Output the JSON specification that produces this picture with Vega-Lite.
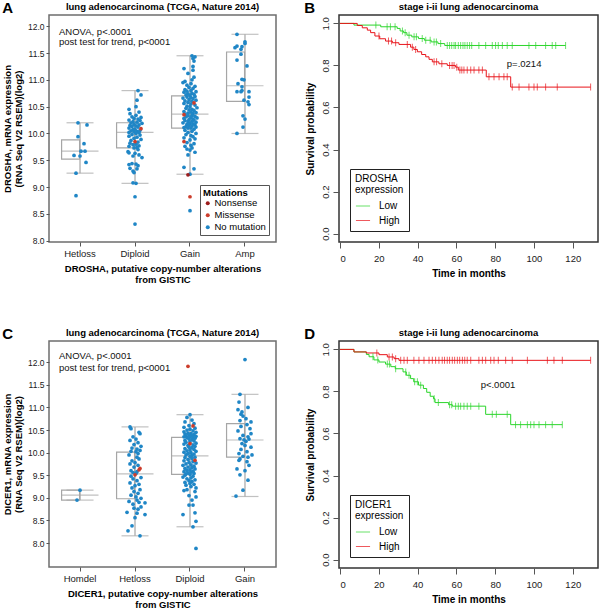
{
"$schema": "https://vega.github.io/schema/vega-lite/v6.json",
"padding": {"left": 2, "top": 0, "right": 0, "bottom": 0},
"config": {
  "font": "Liberation Sans",
  "axis": {"grid": false, "domain": false, "tickColor": "#555", "labelColor": "#1a1a1a", "titleColor": "#000", "labelOverlap": false},
  "title": {"color": "#000"}
},
"resolve": {"scale": {"color": "independent", "xOffset": "independent"}, "legend": {"color": "independent"}},
"spacing": 41,
"datasets": {
  "aBox": [
    {"c":"Hetloss","lo":9.26,"q1":9.52,"med":9.67,"q3":9.88,"hi":10.2},
    {"c":"Diploid","lo":9.07,"q1":9.73,"med":10.02,"q3":10.2,"hi":10.8},
    {"c":"Gain","lo":9.24,"q1":10.1,"med":10.36,"q3":10.7,"hi":11.45},
    {"c":"Amp","lo":10.0,"q1":10.6,"med":10.89,"q3":11.52,"hi":11.85}
  ],
  "cBox": [
    {"c":"Homdel","lo":8.95,"q1":8.95,"med":9.06,"q3":9.17,"hi":9.17},
    {"c":"Hetloss","lo":8.16,"q1":8.98,"med":9.53,"q3":10.01,"hi":10.57},
    {"c":"Diploid","lo":8.36,"q1":9.52,"med":9.93,"q3":10.34,"hi":10.84},
    {"c":"Gain","lo":9.03,"q1":9.9,"med":10.28,"q3":10.64,"hi":11.29}
  ],
  "aNote": [
    {"c":"Hetloss","v":11.9,"t":"ANOVA, p<.0001"},
    {"c":"Hetloss","v":11.71,"t":"post test for trend, p<0001"}
  ],
  "cNote": [
    {"c":"Homdel","v":12.13,"t":"ANOVA, p<.0001"},
    {"c":"Homdel","v":11.87,"t":"post test for trend, p<0001"}
  ],
  "bNote": [{"t":86,"s":0.805,"label":"p=.0214"}],
  "dNote": [{"t":72.5,"s":0.829,"label":"p<.0001"}],
  "aPts": [
    {"c":"Hetloss","v":10.2,"j":-0.2,"m":"No mutation"},{"c":"Hetloss","v":10.16,"j":0.7,"m":"No mutation"},{"c":"Hetloss","v":9.94,"j":-0.2,"m":"No mutation"},{"c":"Hetloss","v":9.81,"j":0.4,"m":"No mutation"},{"c":"Hetloss","v":9.67,"j":0.1,"m":"No mutation"},{"c":"Hetloss","v":9.67,"j":0.5,"m":"No mutation"},{"c":"Hetloss","v":9.59,"j":-0.6,"m":"No mutation"},{"c":"Hetloss","v":9.58,"j":0,"m":"No mutation"},{"c":"Hetloss","v":9.46,"j":0.6,"m":"No mutation"},{"c":"Hetloss","v":9.26,"j":-0.4,"m":"No mutation"},{"c":"Hetloss","v":8.84,"j":-0.4,"m":"No mutation"},
    {"c":"Diploid","v":10.8,"j":0.3,"m":"No mutation"},{"c":"Diploid","v":10.72,"j":0.6,"m":"No mutation"},{"c":"Diploid","v":10.62,"j":0.2,"m":"No mutation"},{"c":"Diploid","v":10.5,"j":0.1,"m":"No mutation"},{"c":"Diploid","v":10.45,"j":-0.6,"m":"No mutation"},{"c":"Diploid","v":10.4,"j":0.4,"m":"No mutation"},{"c":"Diploid","v":10.37,"j":-0.5,"m":"No mutation"},{"c":"Diploid","v":10.34,"j":0.1,"m":"No mutation"},{"c":"Diploid","v":10.31,"j":-0.3,"m":"No mutation"},{"c":"Diploid","v":10.3,"j":0.6,"m":"No mutation"},{"c":"Diploid","v":10.28,"j":-0.1,"m":"No mutation"},{"c":"Diploid","v":10.27,"j":0.3,"m":"No mutation"},{"c":"Diploid","v":10.25,"j":-0.6,"m":"No mutation"},{"c":"Diploid","v":10.24,"j":0.5,"m":"No mutation"},{"c":"Diploid","v":10.22,"j":-0.2,"m":"No mutation"},{"c":"Diploid","v":10.21,"j":0.2,"m":"No mutation"},{"c":"Diploid","v":10.2,"j":-0.4,"m":"No mutation"},
    {"c":"Diploid","v":10.19,"j":0.7,"m":"No mutation"},{"c":"Diploid","v":10.17,"j":-0.1,"m":"No mutation"},{"c":"Diploid","v":10.16,"j":0.4,"m":"No mutation"},{"c":"Diploid","v":10.15,"j":-0.5,"m":"No mutation"},{"c":"Diploid","v":10.14,"j":0.1,"m":"No mutation"},{"c":"Diploid","v":10.13,"j":-0.3,"m":"No mutation"},{"c":"Diploid","v":10.12,"j":0.3,"m":"No mutation"},{"c":"Diploid","v":10.1,"j":-0.6,"m":"No mutation"},{"c":"Diploid","v":10.08,"j":0,"m":"No mutation"},{"c":"Diploid","v":10.07,"j":-0.2,"m":"No mutation"},{"c":"Diploid","v":10.06,"j":0.5,"m":"No mutation"},{"c":"Diploid","v":10.05,"j":-0.4,"m":"No mutation"},{"c":"Diploid","v":10.04,"j":0.2,"m":"No mutation"},{"c":"Diploid","v":10.03,"j":-0.1,"m":"No mutation"},{"c":"Diploid","v":10.02,"j":0.4,"m":"No mutation"},{"c":"Diploid","v":10.02,"j":-0.6,"m":"No mutation"},
    {"c":"Diploid","v":10.0,"j":0.1,"m":"No mutation"},{"c":"Diploid","v":9.98,"j":-0.3,"m":"No mutation"},{"c":"Diploid","v":9.97,"j":0.5,"m":"No mutation"},{"c":"Diploid","v":9.95,"j":-0.6,"m":"No mutation"},{"c":"Diploid","v":9.93,"j":0.2,"m":"No mutation"},{"c":"Diploid","v":9.91,"j":-0.1,"m":"No mutation"},{"c":"Diploid","v":9.89,"j":0.6,"m":"No mutation"},{"c":"Diploid","v":9.87,"j":-0.4,"m":"No mutation"},{"c":"Diploid","v":9.84,"j":0.3,"m":"No mutation"},{"c":"Diploid","v":9.82,"j":-0.5,"m":"No mutation"},{"c":"Diploid","v":9.8,"j":0.1,"m":"No mutation"},{"c":"Diploid","v":9.79,"j":-0.2,"m":"No mutation"},{"c":"Diploid","v":9.77,"j":0.4,"m":"No mutation"},{"c":"Diploid","v":9.76,"j":-0.6,"m":"No mutation"},{"c":"Diploid","v":9.74,"j":0.2,"m":"No mutation"},{"c":"Diploid","v":9.73,"j":-0.1,"m":"No mutation"},
    {"c":"Diploid","v":9.7,"j":0.3,"m":"No mutation"},{"c":"Diploid","v":9.66,"j":-0.7,"m":"No mutation"},{"c":"Diploid","v":9.64,"j":-0.6,"m":"No mutation"},{"c":"Diploid","v":9.63,"j":0,"m":"No mutation"},{"c":"Diploid","v":9.6,"j":0.4,"m":"No mutation"},{"c":"Diploid","v":9.58,"j":-0.2,"m":"No mutation"},{"c":"Diploid","v":9.55,"j":0.7,"m":"No mutation"},{"c":"Diploid","v":9.44,"j":-0.3,"m":"No mutation"},{"c":"Diploid","v":9.43,"j":0.1,"m":"No mutation"},{"c":"Diploid","v":9.42,"j":-0.6,"m":"No mutation"},{"c":"Diploid","v":9.4,"j":0.3,"m":"No mutation"},{"c":"Diploid","v":9.35,"j":-0.5,"m":"No mutation"},{"c":"Diploid","v":9.34,"j":0.2,"m":"No mutation"},{"c":"Diploid","v":9.3,"j":-0.2,"m":"No mutation"},{"c":"Diploid","v":9.27,"j":-0.1,"m":"No mutation"},{"c":"Diploid","v":9.08,"j":-0.2,"m":"No mutation"},{"c":"Diploid","v":9.07,"j":0.1,"m":"No mutation"},{"c":"Diploid","v":8.82,"j":0,"m":"No mutation"},{"c":"Diploid","v":8.31,"j":0,"m":"No mutation"},
    {"c":"Gain","v":11.45,"j":0.2,"m":"No mutation"},{"c":"Gain","v":11.43,"j":0.5,"m":"No mutation"},{"c":"Gain","v":11.4,"j":0.3,"m":"No mutation"},{"c":"Gain","v":11.35,"j":0.4,"m":"No mutation"},{"c":"Gain","v":11.25,"j":0.3,"m":"No mutation"},{"c":"Gain","v":11.21,"j":-0.6,"m":"No mutation"},{"c":"Gain","v":11.18,"j":0.3,"m":"No mutation"},{"c":"Gain","v":11.12,"j":-0.2,"m":"No mutation"},{"c":"Gain","v":11.05,"j":0.4,"m":"No mutation"},{"c":"Gain","v":11.0,"j":0.2,"m":"No mutation"},{"c":"Gain","v":10.97,"j":-0.5,"m":"No mutation"},{"c":"Gain","v":10.95,"j":-0.7,"m":"No mutation"},{"c":"Gain","v":10.93,"j":0.1,"m":"No mutation"},{"c":"Gain","v":10.9,"j":-0.3,"m":"No mutation"},{"c":"Gain","v":10.88,"j":0.5,"m":"No mutation"},{"c":"Gain","v":10.86,"j":-0.1,"m":"No mutation"},{"c":"Gain","v":10.84,"j":0.3,"m":"No mutation"},{"c":"Gain","v":10.82,"j":-0.5,"m":"No mutation"},{"c":"Gain","v":10.8,"j":0.1,"m":"No mutation"},{"c":"Gain","v":10.79,"j":-0.3,"m":"No mutation"},{"c":"Gain","v":10.78,"j":0.6,"m":"No mutation"},{"c":"Gain","v":10.77,"j":-0.6,"m":"No mutation"},{"c":"Gain","v":10.75,"j":0.2,"m":"No mutation"},{"c":"Gain","v":10.74,"j":-0.2,"m":"No mutation"},{"c":"Gain","v":10.73,"j":0.4,"m":"No mutation"},{"c":"Gain","v":10.72,"j":-0.4,"m":"No mutation"},{"c":"Gain","v":10.71,"j":0,"m":"No mutation"},
    {"c":"Gain","v":10.69,"j":0.5,"m":"No mutation"},{"c":"Gain","v":10.68,"j":-0.3,"m":"No mutation"},{"c":"Gain","v":10.67,"j":0.1,"m":"No mutation"},{"c":"Gain","v":10.66,"j":-0.7,"m":"No mutation"},{"c":"Gain","v":10.65,"j":0.3,"m":"No mutation"},{"c":"Gain","v":10.63,"j":-0.1,"m":"No mutation"},{"c":"Gain","v":10.62,"j":0.6,"m":"No mutation"},{"c":"Gain","v":10.61,"j":-0.5,"m":"No mutation"},{"c":"Gain","v":10.6,"j":0.2,"m":"No mutation"},{"c":"Gain","v":10.58,"j":-0.2,"m":"No mutation"},{"c":"Gain","v":10.56,"j":-0.6,"m":"No mutation"},{"c":"Gain","v":10.55,"j":0.1,"m":"No mutation"},{"c":"Gain","v":10.53,"j":0.5,"m":"No mutation"},{"c":"Gain","v":10.51,"j":-0.3,"m":"No mutation"},{"c":"Gain","v":10.5,"j":0,"m":"No mutation"},{"c":"Gain","v":10.48,"j":0.7,"m":"No mutation"},{"c":"Gain","v":10.47,"j":-0.4,"m":"No mutation"},{"c":"Gain","v":10.45,"j":0.2,"m":"No mutation"},{"c":"Gain","v":10.44,"j":-0.1,"m":"No mutation"},{"c":"Gain","v":10.43,"j":0.4,"m":"No mutation"},{"c":"Gain","v":10.41,"j":-0.6,"m":"No mutation"},{"c":"Gain","v":10.4,"j":0.1,"m":"No mutation"},{"c":"Gain","v":10.39,"j":0.6,"m":"No mutation"},{"c":"Gain","v":10.38,"j":-0.2,"m":"No mutation"},{"c":"Gain","v":10.37,"j":0.3,"m":"No mutation"},{"c":"Gain","v":10.36,"j":-0.5,"m":"No mutation"},
    {"c":"Gain","v":10.34,"j":0.2,"m":"No mutation"},{"c":"Gain","v":10.33,"j":-0.2,"m":"No mutation"},{"c":"Gain","v":10.32,"j":0.5,"m":"No mutation"},{"c":"Gain","v":10.31,"j":-0.4,"m":"No mutation"},{"c":"Gain","v":10.3,"j":0.1,"m":"No mutation"},{"c":"Gain","v":10.29,"j":0.7,"m":"No mutation"},{"c":"Gain","v":10.28,"j":-0.6,"m":"No mutation"},{"c":"Gain","v":10.27,"j":0.3,"m":"No mutation"},{"c":"Gain","v":10.26,"j":-0.1,"m":"No mutation"},{"c":"Gain","v":10.25,"j":0.4,"m":"No mutation"},{"c":"Gain","v":10.24,"j":-0.5,"m":"No mutation"},{"c":"Gain","v":10.23,"j":0.2,"m":"No mutation"},{"c":"Gain","v":10.22,"j":-0.2,"m":"No mutation"},{"c":"Gain","v":10.21,"j":0.6,"m":"No mutation"},{"c":"Gain","v":10.2,"j":-0.7,"m":"No mutation"},{"c":"Gain","v":10.19,"j":0,"m":"No mutation"},{"c":"Gain","v":10.18,"j":0.3,"m":"No mutation"},{"c":"Gain","v":10.17,"j":-0.3,"m":"No mutation"},{"c":"Gain","v":10.16,"j":0.5,"m":"No mutation"},{"c":"Gain","v":10.15,"j":-0.1,"m":"No mutation"},{"c":"Gain","v":10.14,"j":0.2,"m":"No mutation"},{"c":"Gain","v":10.13,"j":-0.4,"m":"No mutation"},{"c":"Gain","v":10.12,"j":0.6,"m":"No mutation"},{"c":"Gain","v":10.11,"j":-0.6,"m":"No mutation"},{"c":"Gain","v":10.1,"j":0.1,"m":"No mutation"},{"c":"Gain","v":10.1,"j":-0.2,"m":"No mutation"},
    {"c":"Gain","v":10.08,"j":0.4,"m":"No mutation"},{"c":"Gain","v":10.06,"j":-0.5,"m":"No mutation"},{"c":"Gain","v":10.04,"j":0.2,"m":"No mutation"},{"c":"Gain","v":10.02,"j":-0.2,"m":"No mutation"},{"c":"Gain","v":10.0,"j":0.6,"m":"No mutation"},{"c":"Gain","v":9.98,"j":-0.4,"m":"No mutation"},{"c":"Gain","v":9.96,"j":0.1,"m":"No mutation"},{"c":"Gain","v":9.94,"j":0.3,"m":"No mutation"},{"c":"Gain","v":9.92,"j":-0.6,"m":"No mutation"},{"c":"Gain","v":9.9,"j":0.5,"m":"No mutation"},{"c":"Gain","v":9.88,"j":0,"m":"No mutation"},{"c":"Gain","v":9.83,"j":-0.3,"m":"No mutation"},{"c":"Gain","v":9.81,"j":0.4,"m":"No mutation"},{"c":"Gain","v":9.78,"j":0.1,"m":"No mutation"},{"c":"Gain","v":9.76,"j":-0.5,"m":"No mutation"},{"c":"Gain","v":9.73,"j":0.2,"m":"No mutation"},{"c":"Gain","v":9.71,"j":-0.3,"m":"No mutation"},{"c":"Gain","v":9.69,"j":0,"m":"No mutation"},{"c":"Gain","v":9.65,"j":0.5,"m":"No mutation"},{"c":"Gain","v":9.6,"j":-0.2,"m":"No mutation"},{"c":"Gain","v":9.37,"j":-0.6,"m":"No mutation"},{"c":"Gain","v":9.34,"j":0.4,"m":"No mutation"},{"c":"Gain","v":9.24,"j":0,"m":"No mutation"},{"c":"Gain","v":8.56,"j":0,"m":"No mutation"},
    {"c":"Amp","v":11.85,"j":-0.8,"m":"No mutation"},{"c":"Amp","v":11.71,"j":0,"m":"No mutation"},{"c":"Amp","v":11.68,"j":0,"m":"No mutation"},{"c":"Amp","v":11.63,"j":-0.8,"m":"No mutation"},{"c":"Amp","v":11.62,"j":-0.3,"m":"No mutation"},{"c":"Amp","v":11.6,"j":-1,"m":"No mutation"},{"c":"Amp","v":11.57,"j":-0.4,"m":"No mutation"},{"c":"Amp","v":11.48,"j":-0.4,"m":"No mutation"},{"c":"Amp","v":11.37,"j":-0.8,"m":"No mutation"},{"c":"Amp","v":11.26,"j":0.2,"m":"No mutation"},{"c":"Amp","v":11.01,"j":-0.3,"m":"No mutation"},{"c":"Amp","v":11.0,"j":-0.1,"m":"No mutation"},{"c":"Amp","v":10.93,"j":-0.7,"m":"No mutation"},{"c":"Amp","v":10.87,"j":-0.3,"m":"No mutation"},{"c":"Amp","v":10.8,"j":-0.3,"m":"No mutation"},{"c":"Amp","v":10.78,"j":-0.8,"m":"No mutation"},{"c":"Amp","v":10.78,"j":-0.4,"m":"No mutation"},{"c":"Amp","v":10.78,"j":0.4,"m":"No mutation"},{"c":"Amp","v":10.68,"j":0.4,"m":"No mutation"},{"c":"Amp","v":10.62,"j":-0.1,"m":"No mutation"},{"c":"Amp","v":10.59,"j":0.3,"m":"No mutation"},{"c":"Amp","v":10.54,"j":0.4,"m":"No mutation"},{"c":"Amp","v":10.33,"j":-0.2,"m":"No mutation"},{"c":"Amp","v":10.27,"j":0,"m":"No mutation"},{"c":"Amp","v":10.12,"j":-0.2,"m":"No mutation"},{"c":"Amp","v":10.0,"j":-0.8,"m":"No mutation"},
    {"c":"Diploid","v":10.09,"j":0.6,"m":"Missense"},{"c":"Diploid","v":9.85,"j":0,"m":"Missense"},
    {"c":"Gain","v":10.57,"j":0.4,"m":"Missense"},{"c":"Gain","v":10.35,"j":-0.6,"m":"Missense"},{"c":"Gain","v":9.85,"j":-0.6,"m":"Missense"},{"c":"Gain","v":9.23,"j":-0.2,"m":"Nonsense"},{"c":"Gain","v":8.82,"j":0,"m":"Missense"}
  ],
  "cPts": [
    {"c":"Homdel","v":9.17,"j":0,"m":"No mutation"},{"c":"Homdel","v":8.95,"j":-0.3,"m":"No mutation"},
    {"c":"Hetloss","v":10.57,"j":-0.5,"m":"No mutation"},{"c":"Hetloss","v":10.53,"j":-0.4,"m":"No mutation"},{"c":"Hetloss","v":10.45,"j":0.4,"m":"No mutation"},{"c":"Hetloss","v":10.42,"j":0.5,"m":"No mutation"},{"c":"Hetloss","v":10.35,"j":-0.2,"m":"No mutation"},{"c":"Hetloss","v":10.3,"j":0.1,"m":"No mutation"},{"c":"Hetloss","v":10.27,"j":-0.5,"m":"No mutation"},{"c":"Hetloss","v":10.22,"j":0.3,"m":"No mutation"},{"c":"Hetloss","v":10.18,"j":-0.1,"m":"No mutation"},{"c":"Hetloss","v":10.14,"j":0.6,"m":"No mutation"},{"c":"Hetloss","v":10.1,"j":-0.3,"m":"No mutation"},{"c":"Hetloss","v":10.08,"j":0.2,"m":"No mutation"},{"c":"Hetloss","v":10.05,"j":0.5,"m":"No mutation"},{"c":"Hetloss","v":10.03,"j":-0.4,"m":"No mutation"},{"c":"Hetloss","v":10.02,"j":0.1,"m":"No mutation"},
    {"c":"Hetloss","v":9.98,"j":0.3,"m":"No mutation"},{"c":"Hetloss","v":9.95,"j":-0.6,"m":"No mutation"},{"c":"Hetloss","v":9.9,"j":0.2,"m":"No mutation"},{"c":"Hetloss","v":9.86,"j":0.4,"m":"No mutation"},{"c":"Hetloss","v":9.82,"j":-0.3,"m":"No mutation"},{"c":"Hetloss","v":9.78,"j":0,"m":"No mutation"},{"c":"Hetloss","v":9.75,"j":-0.5,"m":"No mutation"},{"c":"Hetloss","v":9.72,"j":0.3,"m":"No mutation"},{"c":"Hetloss","v":9.68,"j":-0.1,"m":"No mutation"},{"c":"Hetloss","v":9.6,"j":-0.4,"m":"No mutation"},{"c":"Hetloss","v":9.58,"j":0.2,"m":"No mutation"},{"c":"Hetloss","v":9.56,"j":-0.2,"m":"No mutation"},{"c":"Hetloss","v":9.54,"j":0.1,"m":"No mutation"},
    {"c":"Hetloss","v":9.48,"j":-0.4,"m":"No mutation"},{"c":"Hetloss","v":9.45,"j":0.6,"m":"No mutation"},{"c":"Hetloss","v":9.42,"j":-0.2,"m":"No mutation"},{"c":"Hetloss","v":9.38,"j":0.2,"m":"No mutation"},{"c":"Hetloss","v":9.33,"j":-0.5,"m":"No mutation"},{"c":"Hetloss","v":9.3,"j":0.4,"m":"No mutation"},{"c":"Hetloss","v":9.27,"j":0,"m":"No mutation"},{"c":"Hetloss","v":9.22,"j":-0.3,"m":"No mutation"},{"c":"Hetloss","v":9.18,"j":0.5,"m":"No mutation"},{"c":"Hetloss","v":9.14,"j":-0.1,"m":"No mutation"},{"c":"Hetloss","v":9.1,"j":0.3,"m":"No mutation"},{"c":"Hetloss","v":9.06,"j":-0.4,"m":"No mutation"},{"c":"Hetloss","v":9.02,"j":0.1,"m":"No mutation"},{"c":"Hetloss","v":8.99,"j":0.6,"m":"No mutation"},
    {"c":"Hetloss","v":8.95,"j":0.2,"m":"No mutation"},{"c":"Hetloss","v":8.92,"j":-0.6,"m":"No mutation"},{"c":"Hetloss","v":8.9,"j":0.4,"m":"No mutation"},{"c":"Hetloss","v":8.89,"j":1,"m":"No mutation"},{"c":"Hetloss","v":8.86,"j":-0.2,"m":"No mutation"},{"c":"Hetloss","v":8.8,"j":0.6,"m":"No mutation"},{"c":"Hetloss","v":8.77,"j":-0.1,"m":"No mutation"},{"c":"Hetloss","v":8.75,"j":0.3,"m":"No mutation"},{"c":"Hetloss","v":8.68,"j":-0.8,"m":"No mutation"},{"c":"Hetloss","v":8.66,"j":0.2,"m":"No mutation"},{"c":"Hetloss","v":8.63,"j":1,"m":"No mutation"},{"c":"Hetloss","v":8.56,"j":0,"m":"No mutation"},{"c":"Hetloss","v":8.38,"j":-0.3,"m":"No mutation"},{"c":"Hetloss","v":8.27,"j":-0.7,"m":"No mutation"},{"c":"Hetloss","v":8.16,"j":0.5,"m":"No mutation"},
    {"c":"Diploid","v":10.84,"j":0,"m":"No mutation"},{"c":"Diploid","v":10.78,"j":-0.3,"m":"No mutation"},{"c":"Diploid","v":10.72,"j":0.2,"m":"No mutation"},{"c":"Diploid","v":10.68,"j":-0.5,"m":"No mutation"},{"c":"Diploid","v":10.64,"j":0.4,"m":"No mutation"},{"c":"Diploid","v":10.6,"j":-0.1,"m":"No mutation"},{"c":"Diploid","v":10.56,"j":-0.6,"m":"No mutation"},{"c":"Diploid","v":10.54,"j":0.5,"m":"No mutation"},{"c":"Diploid","v":10.52,"j":0,"m":"No mutation"},{"c":"Diploid","v":10.5,"j":-0.3,"m":"No mutation"},{"c":"Diploid","v":10.48,"j":0.3,"m":"No mutation"},{"c":"Diploid","v":10.46,"j":-0.6,"m":"No mutation"},{"c":"Diploid","v":10.45,"j":0.6,"m":"No mutation"},{"c":"Diploid","v":10.43,"j":-0.2,"m":"No mutation"},{"c":"Diploid","v":10.42,"j":0.1,"m":"No mutation"},{"c":"Diploid","v":10.41,"j":-0.5,"m":"No mutation"},{"c":"Diploid","v":10.4,"j":0.4,"m":"No mutation"},{"c":"Diploid","v":10.39,"j":-0.1,"m":"No mutation"},{"c":"Diploid","v":10.38,"j":0.2,"m":"No mutation"},{"c":"Diploid","v":10.37,"j":-0.4,"m":"No mutation"},{"c":"Diploid","v":10.36,"j":0.6,"m":"No mutation"},{"c":"Diploid","v":10.35,"j":0,"m":"No mutation"},{"c":"Diploid","v":10.35,"j":-0.6,"m":"No mutation"},{"c":"Diploid","v":10.34,"j":0.3,"m":"No mutation"},
    {"c":"Diploid","v":10.33,"j":-0.3,"m":"No mutation"},{"c":"Diploid","v":10.32,"j":0.5,"m":"No mutation"},{"c":"Diploid","v":10.3,"j":-0.1,"m":"No mutation"},{"c":"Diploid","v":10.29,"j":0.2,"m":"No mutation"},{"c":"Diploid","v":10.27,"j":-0.5,"m":"No mutation"},{"c":"Diploid","v":10.26,"j":0.4,"m":"No mutation"},{"c":"Diploid","v":10.24,"j":0,"m":"No mutation"},{"c":"Diploid","v":10.23,"j":-0.4,"m":"No mutation"},{"c":"Diploid","v":10.21,"j":0.6,"m":"No mutation"},{"c":"Diploid","v":10.19,"j":-0.6,"m":"No mutation"},{"c":"Diploid","v":10.17,"j":0.3,"m":"No mutation"},{"c":"Diploid","v":10.16,"j":-0.2,"m":"No mutation"},{"c":"Diploid","v":10.14,"j":0.5,"m":"No mutation"},{"c":"Diploid","v":10.12,"j":-0.1,"m":"No mutation"},{"c":"Diploid","v":10.11,"j":0.2,"m":"No mutation"},{"c":"Diploid","v":10.09,"j":-0.5,"m":"No mutation"},{"c":"Diploid","v":10.07,"j":0.4,"m":"No mutation"},{"c":"Diploid","v":10.06,"j":0,"m":"No mutation"},{"c":"Diploid","v":10.04,"j":-0.3,"m":"No mutation"},{"c":"Diploid","v":10.03,"j":0.6,"m":"No mutation"},{"c":"Diploid","v":10.01,"j":-0.6,"m":"No mutation"},{"c":"Diploid","v":10.0,"j":0.1,"m":"No mutation"},{"c":"Diploid","v":9.98,"j":-0.2,"m":"No mutation"},{"c":"Diploid","v":9.97,"j":0.4,"m":"No mutation"},{"c":"Diploid","v":9.95,"j":-0.4,"m":"No mutation"},{"c":"Diploid","v":9.94,"j":0.2,"m":"No mutation"},
    {"c":"Diploid","v":9.92,"j":0,"m":"No mutation"},{"c":"Diploid","v":9.9,"j":0.5,"m":"No mutation"},{"c":"Diploid","v":9.89,"j":-0.5,"m":"No mutation"},{"c":"Diploid","v":9.87,"j":0.2,"m":"No mutation"},{"c":"Diploid","v":9.85,"j":-0.2,"m":"No mutation"},{"c":"Diploid","v":9.82,"j":-0.6,"m":"No mutation"},{"c":"Diploid","v":9.8,"j":0.3,"m":"No mutation"},{"c":"Diploid","v":9.78,"j":-0.1,"m":"No mutation"},{"c":"Diploid","v":9.77,"j":0.6,"m":"No mutation"},{"c":"Diploid","v":9.75,"j":-0.4,"m":"No mutation"},{"c":"Diploid","v":9.73,"j":0.1,"m":"No mutation"},{"c":"Diploid","v":9.72,"j":-0.7,"m":"No mutation"},{"c":"Diploid","v":9.7,"j":0.4,"m":"No mutation"},{"c":"Diploid","v":9.68,"j":-0.2,"m":"No mutation"},{"c":"Diploid","v":9.67,"j":0.2,"m":"No mutation"},{"c":"Diploid","v":9.65,"j":-0.5,"m":"No mutation"},{"c":"Diploid","v":9.64,"j":0.5,"m":"No mutation"},{"c":"Diploid","v":9.62,"j":0,"m":"No mutation"},{"c":"Diploid","v":9.61,"j":-0.3,"m":"No mutation"},{"c":"Diploid","v":9.59,"j":0.3,"m":"No mutation"},{"c":"Diploid","v":9.58,"j":-0.6,"m":"No mutation"},{"c":"Diploid","v":9.57,"j":0.1,"m":"No mutation"},{"c":"Diploid","v":9.55,"j":-0.2,"m":"No mutation"},{"c":"Diploid","v":9.54,"j":0.4,"m":"No mutation"},{"c":"Diploid","v":9.53,"j":-0.4,"m":"No mutation"},{"c":"Diploid","v":9.52,"j":0,"m":"No mutation"},
    {"c":"Diploid","v":9.5,"j":-0.5,"m":"No mutation"},{"c":"Diploid","v":9.48,"j":0.3,"m":"No mutation"},{"c":"Diploid","v":9.46,"j":-0.7,"m":"No mutation"},{"c":"Diploid","v":9.44,"j":0.1,"m":"No mutation"},{"c":"Diploid","v":9.42,"j":-0.3,"m":"No mutation"},{"c":"Diploid","v":9.4,"j":0.5,"m":"No mutation"},{"c":"Diploid","v":9.38,"j":-0.1,"m":"No mutation"},{"c":"Diploid","v":9.36,"j":0.2,"m":"No mutation"},{"c":"Diploid","v":9.34,"j":-0.5,"m":"No mutation"},{"c":"Diploid","v":9.32,"j":0,"m":"No mutation"},{"c":"Diploid","v":9.3,"j":0.4,"m":"No mutation"},{"c":"Diploid","v":9.28,"j":-0.4,"m":"No mutation"},{"c":"Diploid","v":9.25,"j":0.1,"m":"No mutation"},{"c":"Diploid","v":9.22,"j":0.6,"m":"No mutation"},{"c":"Diploid","v":9.18,"j":-0.3,"m":"No mutation"},{"c":"Diploid","v":9.16,"j":-0.6,"m":"No mutation"},{"c":"Diploid","v":9.14,"j":0.5,"m":"No mutation"},{"c":"Diploid","v":9.05,"j":-0.1,"m":"No mutation"},{"c":"Diploid","v":9.02,"j":0.6,"m":"No mutation"},{"c":"Diploid","v":8.95,"j":0.2,"m":"No mutation"},{"c":"Diploid","v":8.84,"j":-0.1,"m":"No mutation"},{"c":"Diploid","v":8.84,"j":0.3,"m":"No mutation"},{"c":"Diploid","v":8.67,"j":0.5,"m":"No mutation"},{"c":"Diploid","v":8.63,"j":-0.7,"m":"No mutation"},{"c":"Diploid","v":8.48,"j":0.6,"m":"No mutation"},{"c":"Diploid","v":8.36,"j":0.3,"m":"No mutation"},{"c":"Diploid","v":7.88,"j":0.6,"m":"No mutation"},
    {"c":"Gain","v":12.06,"j":0,"m":"No mutation"},{"c":"Gain","v":11.29,"j":-0.5,"m":"No mutation"},{"c":"Gain","v":11.12,"j":-0.6,"m":"No mutation"},{"c":"Gain","v":11.0,"j":0.3,"m":"No mutation"},{"c":"Gain","v":10.95,"j":-0.7,"m":"No mutation"},{"c":"Gain","v":10.9,"j":-0.3,"m":"No mutation"},{"c":"Gain","v":10.85,"j":-0.4,"m":"No mutation"},{"c":"Gain","v":10.81,"j":-0.2,"m":"No mutation"},{"c":"Gain","v":10.75,"j":0.1,"m":"No mutation"},{"c":"Gain","v":10.71,"j":-0.5,"m":"No mutation"},{"c":"Gain","v":10.68,"j":0.6,"m":"No mutation"},{"c":"Gain","v":10.62,"j":0.2,"m":"No mutation"},{"c":"Gain","v":10.58,"j":-0.4,"m":"No mutation"},{"c":"Gain","v":10.53,"j":0.5,"m":"No mutation"},{"c":"Gain","v":10.48,"j":-0.7,"m":"No mutation"},{"c":"Gain","v":10.42,"j":0.6,"m":"No mutation"},{"c":"Gain","v":10.38,"j":-0.2,"m":"No mutation"},{"c":"Gain","v":10.35,"j":0.3,"m":"No mutation"},{"c":"Gain","v":10.31,"j":-0.5,"m":"No mutation"},{"c":"Gain","v":10.3,"j":0.4,"m":"No mutation"},{"c":"Gain","v":10.28,"j":-0.1,"m":"No mutation"},{"c":"Gain","v":10.25,"j":0.1,"m":"No mutation"},{"c":"Gain","v":10.2,"j":-0.3,"m":"No mutation"},{"c":"Gain","v":10.16,"j":0,"m":"No mutation"},{"c":"Gain","v":10.12,"j":0.6,"m":"No mutation"},{"c":"Gain","v":10.07,"j":-0.4,"m":"No mutation"},{"c":"Gain","v":10.02,"j":0.2,"m":"No mutation"},{"c":"Gain","v":9.98,"j":-0.6,"m":"No mutation"},{"c":"Gain","v":9.95,"j":0.7,"m":"No mutation"},{"c":"Gain","v":9.92,"j":-0.2,"m":"No mutation"},{"c":"Gain","v":9.9,"j":0.3,"m":"No mutation"},{"c":"Gain","v":9.86,"j":-0.5,"m":"No mutation"},{"c":"Gain","v":9.83,"j":-0.6,"m":"No mutation"},{"c":"Gain","v":9.8,"j":0.2,"m":"No mutation"},{"c":"Gain","v":9.72,"j":0.4,"m":"No mutation"},{"c":"Gain","v":9.64,"j":-0.8,"m":"No mutation"},{"c":"Gain","v":9.6,"j":0,"m":"No mutation"},{"c":"Gain","v":9.51,"j":-0.5,"m":"No mutation"},{"c":"Gain","v":9.39,"j":0.3,"m":"No mutation"},{"c":"Gain","v":9.17,"j":-0.2,"m":"No mutation"},{"c":"Gain","v":9.04,"j":-0.9,"m":"No mutation"},
    {"c":"Hetloss","v":9.65,"j":0.5,"m":"Missense"},{"c":"Hetloss","v":9.62,"j":0.4,"m":"Missense"},{"c":"Hetloss","v":9.51,"j":0,"m":"Missense"},
    {"c":"Diploid","v":11.91,"j":-0.2,"m":"Missense"},{"c":"Diploid","v":10.59,"j":0.3,"m":"Missense"},{"c":"Diploid","v":10.2,"j":0,"m":"Missense"},{"c":"Diploid","v":9.83,"j":0.5,"m":"Missense"}
  ],
  "bLine": [
    {"t":0,"s":1,"g":"Low"},{"t":7.2,"s":0.992,"g":"Low"},{"t":21,"s":0.984,"g":"Low"},{"t":29.5,"s":0.976,"g":"Low"},{"t":31,"s":0.964,"g":"Low"},{"t":32.8,"s":0.956,"g":"Low"},{"t":34.5,"s":0.944,"g":"Low"},{"t":37,"s":0.936,"g":"Low"},{"t":40.5,"s":0.928,"g":"Low"},{"t":43.5,"s":0.92,"g":"Low"},{"t":47,"s":0.912,"g":"Low"},{"t":50.5,"s":0.904,"g":"Low"},{"t":54,"s":0.895,"g":"Low"},{"t":116.3,"s":0.895,"g":"Low"},
    {"t":0,"s":1,"g":"High"},{"t":8.9,"s":0.99,"g":"High"},{"t":11.5,"s":0.979,"g":"High"},{"t":14.1,"s":0.968,"g":"High"},{"t":15.8,"s":0.956,"g":"High"},{"t":18,"s":0.94,"g":"High"},{"t":20.5,"s":0.927,"g":"High"},{"t":23.5,"s":0.916,"g":"High"},{"t":27,"s":0.908,"g":"High"},{"t":30.4,"s":0.9,"g":"High"},{"t":36.4,"s":0.887,"g":"High"},{"t":38.1,"s":0.876,"g":"High"},{"t":39.9,"s":0.865,"g":"High"},{"t":42.1,"s":0.852,"g":"High"},{"t":44.2,"s":0.841,"g":"High"},{"t":45.9,"s":0.829,"g":"High"},{"t":47.6,"s":0.817,"g":"High"},{"t":51,"s":0.808,"g":"High"},{"t":55.3,"s":0.8,"g":"High"},{"t":59.6,"s":0.792,"g":"High"},{"t":61,"s":0.778,"g":"High"},{"t":75.4,"s":0.746,"g":"High"},{"t":88,"s":0.697,"g":"High"},{"t":129.2,"s":0.697,"g":"High"}
  ],
  "bCens": [
    {"t":18.5,"s":0.992,"g":"Low"},{"t":24.3,"s":0.984,"g":"Low"},{"t":26,"s":0.984,"g":"Low"},{"t":28.4,"s":0.984,"g":"Low"},{"t":32.2,"s":0.964,"g":"Low"},{"t":33.6,"s":0.956,"g":"Low"},{"t":35.6,"s":0.944,"g":"Low"},{"t":38.2,"s":0.936,"g":"Low"},{"t":39.4,"s":0.936,"g":"Low"},{"t":42.4,"s":0.928,"g":"Low"},{"t":44.2,"s":0.92,"g":"Low"},{"t":46.5,"s":0.92,"g":"Low"},{"t":48.5,"s":0.912,"g":"Low"},{"t":49.7,"s":0.912,"g":"Low"},{"t":51.9,"s":0.904,"g":"Low"},
    {"t":55.3,"s":0.895,"g":"Low"},{"t":56.5,"s":0.895,"g":"Low"},{"t":57.6,"s":0.895,"g":"Low"},{"t":58.8,"s":0.895,"g":"Low"},{"t":59.6,"s":0.895,"g":"Low"},{"t":61,"s":0.895,"g":"Low"},{"t":62.2,"s":0.895,"g":"Low"},{"t":63.4,"s":0.895,"g":"Low"},{"t":64.4,"s":0.895,"g":"Low"},{"t":65.6,"s":0.895,"g":"Low"},{"t":66.8,"s":0.895,"g":"Low"},{"t":67.9,"s":0.895,"g":"Low"},{"t":71.6,"s":0.895,"g":"Low"},{"t":75.1,"s":0.895,"g":"Low"},{"t":78.5,"s":0.895,"g":"Low"},{"t":80.2,"s":0.895,"g":"Low"},{"t":81.6,"s":0.895,"g":"Low"},{"t":83.7,"s":0.895,"g":"Low"},{"t":86.2,"s":0.895,"g":"Low"},{"t":88.8,"s":0.895,"g":"Low"},{"t":97.4,"s":0.895,"g":"Low"},{"t":100.9,"s":0.895,"g":"Low"},{"t":106,"s":0.895,"g":"Low"},{"t":109.4,"s":0.895,"g":"Low"},{"t":111.2,"s":0.895,"g":"Low"},{"t":116.3,"s":0.895,"g":"Low"},
    {"t":20.1,"s":0.94,"g":"High"},{"t":25,"s":0.916,"g":"High"},{"t":26.6,"s":0.916,"g":"High"},{"t":28.7,"s":0.908,"g":"High"},{"t":34.7,"s":0.9,"g":"High"},{"t":37.3,"s":0.887,"g":"High"},{"t":39,"s":0.876,"g":"High"},{"t":48.5,"s":0.817,"g":"High"},{"t":49.8,"s":0.817,"g":"High"},{"t":52.5,"s":0.808,"g":"High"},{"t":56.5,"s":0.8,"g":"High"},{"t":57.8,"s":0.8,"g":"High"},{"t":58.8,"s":0.8,"g":"High"},{"t":60.2,"s":0.792,"g":"High"},{"t":61.8,"s":0.778,"g":"High"},{"t":62.8,"s":0.778,"g":"High"},{"t":63.9,"s":0.778,"g":"High"},{"t":65.6,"s":0.778,"g":"High"},{"t":67.4,"s":0.778,"g":"High"},{"t":69.1,"s":0.778,"g":"High"},{"t":71.6,"s":0.778,"g":"High"},{"t":73.4,"s":0.778,"g":"High"},{"t":76.8,"s":0.746,"g":"High"},{"t":79.4,"s":0.746,"g":"High"},{"t":82,"s":0.746,"g":"High"},{"t":84.5,"s":0.746,"g":"High"},{"t":86.2,"s":0.746,"g":"High"},{"t":88.8,"s":0.697,"g":"High"},{"t":92.3,"s":0.697,"g":"High"},{"t":97.4,"s":0.697,"g":"High"},{"t":100,"s":0.697,"g":"High"},{"t":101.7,"s":0.697,"g":"High"},{"t":106,"s":0.697,"g":"High"},{"t":112,"s":0.697,"g":"High"},{"t":129.2,"s":0.697,"g":"High"}
  ],
  "dLine": [
    {"t":0,"s":1,"g":"Low"},{"t":7.2,"s":0.988,"g":"Low"},{"t":13.6,"s":0.976,"g":"Low"},{"t":15,"s":0.965,"g":"Low"},{"t":17.5,"s":0.95,"g":"Low"},{"t":20.1,"s":0.94,"g":"Low"},{"t":23.5,"s":0.93,"g":"Low"},{"t":26.2,"s":0.918,"g":"Low"},{"t":28.5,"s":0.908,"g":"Low"},{"t":32.5,"s":0.893,"g":"Low"},{"t":34.2,"s":0.877,"g":"Low"},{"t":36.4,"s":0.861,"g":"Low"},{"t":38,"s":0.846,"g":"Low"},{"t":40.5,"s":0.83,"g":"Low"},{"t":43,"s":0.814,"g":"Low"},{"t":44.7,"s":0.796,"g":"Low"},{"t":46.5,"s":0.777,"g":"Low"},{"t":48.2,"s":0.765,"g":"Low"},{"t":49,"s":0.747,"g":"Low"},{"t":56,"s":0.737,"g":"Low"},{"t":57.9,"s":0.73,"g":"Low"},{"t":75.1,"s":0.691,"g":"Low"},{"t":88,"s":0.642,"g":"Low"},{"t":114.6,"s":0.642,"g":"Low"},
    {"t":0,"s":1,"g":"High"},{"t":7.2,"s":0.988,"g":"High"},{"t":13.6,"s":0.983,"g":"High"},{"t":20.1,"s":0.975,"g":"High"},{"t":24.4,"s":0.964,"g":"High"},{"t":27.9,"s":0.956,"g":"High"},{"t":30.4,"s":0.948,"g":"High"},{"t":129.2,"s":0.948,"g":"High"}
  ],
  "dCens": [
    {"t":17,"s":0.965,"g":"Low"},{"t":19.5,"s":0.95,"g":"Low"},{"t":24.4,"s":0.93,"g":"Low"},{"t":25.5,"s":0.93,"g":"Low"},{"t":28.7,"s":0.908,"g":"Low"},{"t":33.9,"s":0.893,"g":"Low"},{"t":35.6,"s":0.877,"g":"Low"},{"t":38.5,"s":0.846,"g":"Low"},{"t":39.9,"s":0.846,"g":"Low"},{"t":41.6,"s":0.83,"g":"Low"},{"t":48.6,"s":0.765,"g":"Low"},{"t":50.7,"s":0.747,"g":"Low"},{"t":56.5,"s":0.737,"g":"Low"},{"t":57.6,"s":0.737,"g":"Low"},{"t":59.6,"s":0.73,"g":"Low"},{"t":61,"s":0.73,"g":"Low"},{"t":62.2,"s":0.73,"g":"Low"},{"t":63.9,"s":0.73,"g":"Low"},{"t":65.6,"s":0.73,"g":"Low"},{"t":67.4,"s":0.73,"g":"Low"},{"t":71.6,"s":0.73,"g":"Low"},{"t":78.5,"s":0.691,"g":"Low"},{"t":80.6,"s":0.691,"g":"Low"},{"t":86.2,"s":0.691,"g":"Low"},{"t":90.5,"s":0.642,"g":"Low"},{"t":93.1,"s":0.642,"g":"Low"},{"t":96.6,"s":0.642,"g":"Low"},{"t":98.3,"s":0.642,"g":"Low"},{"t":100,"s":0.642,"g":"Low"},{"t":102.6,"s":0.642,"g":"Low"},{"t":106,"s":0.642,"g":"Low"},{"t":109.4,"s":0.642,"g":"Low"},{"t":114.6,"s":0.642,"g":"Low"},
    {"t":19,"s":0.983,"g":"High"},{"t":25.3,"s":0.964,"g":"High"},{"t":27,"s":0.964,"g":"High"},{"t":28.7,"s":0.956,"g":"High"},{"t":31.3,"s":0.948,"g":"High"},{"t":33,"s":0.948,"g":"High"},{"t":34.7,"s":0.948,"g":"High"},{"t":38.1,"s":0.948,"g":"High"},{"t":40.7,"s":0.948,"g":"High"},{"t":43.3,"s":0.948,"g":"High"},{"t":45.9,"s":0.948,"g":"High"},{"t":47.6,"s":0.948,"g":"High"},{"t":49.3,"s":0.948,"g":"High"},{"t":51,"s":0.948,"g":"High"},{"t":52.7,"s":0.948,"g":"High"},{"t":53.9,"s":0.948,"g":"High"},{"t":55.3,"s":0.948,"g":"High"},{"t":56.5,"s":0.948,"g":"High"},{"t":57.9,"s":0.948,"g":"High"},{"t":59.1,"s":0.948,"g":"High"},{"t":60.5,"s":0.948,"g":"High"},{"t":61.7,"s":0.948,"g":"High"},{"t":63.1,"s":0.948,"g":"High"},{"t":64.3,"s":0.948,"g":"High"},{"t":65.6,"s":0.948,"g":"High"},{"t":67.4,"s":0.948,"g":"High"},{"t":71.6,"s":0.948,"g":"High"},{"t":73.4,"s":0.948,"g":"High"},{"t":75.1,"s":0.948,"g":"High"},{"t":77.7,"s":0.948,"g":"High"},{"t":79.4,"s":0.948,"g":"High"},{"t":81.6,"s":0.948,"g":"High"},{"t":85.4,"s":0.948,"g":"High"},{"t":88.8,"s":0.948,"g":"High"},{"t":96.6,"s":0.948,"g":"High"},{"t":106.9,"s":0.948,"g":"High"},{"t":110.3,"s":0.948,"g":"High"},{"t":114.6,"s":0.948,"g":"High"},{"t":129.2,"s":0.948,"g":"High"}
  ]
},
"vconcat": [
 {"hconcat": [
  {"title": {"text": "A", "anchor": "start", "frame": "bounds", "fontSize": 15, "fontWeight": "bold", "offset": -15},
   "resolve": {"scale": {"color": "independent", "xOffset": "independent"}, "legend": {"color": "independent"}},
   "vconcat": [{
    "width": 227, "height": 227,
    "view": {"stroke": "#6e6e6e", "strokeWidth": 1.5},
    "title": {"text": "lung adenocarcinoma (TCGA, Nature 2014)", "fontSize": 9.5, "fontWeight": "bold", "offset": 4},
    "encoding": {"x": {"field": "c", "type": "nominal", "scale": {"type": "band", "domain": ["Hetloss","Diploid","Gain","Amp"], "paddingInner": 0, "paddingOuter": 0.064},
      "axis": {"labelAngle": 0, "labelFontSize": 9.5, "tickSize": 4, "labelPadding": 2, "title": ["DROSHA, putative copy-number alterations", "from GISTIC"], "titleFontSize": 9.5, "titleFontWeight": "bold", "titlePadding": 6, "titleLineHeight": 11}}},
    "layer": [
     {"data": {"name": "aBox"}, "mark": {"type": "rule", "color": "#a6a6a6", "strokeWidth": 1.2},
      "encoding": {"y": {"field": "lo", "type": "quantitative", "scale": {"domain": [7.976, 12.21], "nice": false, "zero": false},
        "axis": {"values": [8,8.5,9,9.5,10,10.5,11,11.5,12], "labelOverlap": false, "format": ".1f", "labelFontSize": 8.5, "tickSize": 3, "labelPadding": 2, "title": ["DROSHA, mRNA expression", "(RNA Seq V2 RSEM)(log2)"], "titleFontSize": 9.5, "titleFontWeight": "bold", "titlePadding": 4, "titleLineHeight": 10.5}},
        "y2": {"field": "hi"}}},
     {"data": {"name": "aBox"}, "mark": {"type": "bar", "fill": "white", "stroke": "#a6a6a6", "strokeWidth": 1.2, "width": {"band": 0.67}},
      "encoding": {"y": {"field": "q1", "type": "quantitative", "axis": {"values": [8,8.5,9,9.5,10,10.5,11,11.5,12], "labelOverlap": false, "format": ".1f", "labelFontSize": 8.5, "tickSize": 3, "labelPadding": 2, "title": ["DROSHA, mRNA expression", "(RNA Seq V2 RSEM)(log2)"], "titleFontSize": 9.5, "titleFontWeight": "bold", "titlePadding": 4, "titleLineHeight": 10.5}}, "y2": {"field": "q3"}}},
     {"data": {"name": "aBox"}, "mark": {"type": "tick", "orient": "horizontal", "size": 37, "thickness": 1.2, "color": "#a6a6a6"},
      "encoding": {"y": {"field": "med", "type": "quantitative", "axis": {"values": [8,8.5,9,9.5,10,10.5,11,11.5,12], "labelOverlap": false, "format": ".1f", "labelFontSize": 8.5, "tickSize": 3, "labelPadding": 2, "title": ["DROSHA, mRNA expression", "(RNA Seq V2 RSEM)(log2)"], "titleFontSize": 9.5, "titleFontWeight": "bold", "titlePadding": 4, "titleLineHeight": 10.5}}}},
     {"data": {"name": "aBox"}, "mark": {"type": "tick", "orient": "horizontal", "size": 27, "thickness": 1.2, "color": "#a6a6a6"},
      "encoding": {"y": {"field": "lo", "type": "quantitative", "axis": {"values": [8,8.5,9,9.5,10,10.5,11,11.5,12], "labelOverlap": false, "format": ".1f", "labelFontSize": 8.5, "tickSize": 3, "labelPadding": 2, "title": ["DROSHA, mRNA expression", "(RNA Seq V2 RSEM)(log2)"], "titleFontSize": 9.5, "titleFontWeight": "bold", "titlePadding": 4, "titleLineHeight": 10.5}}}},
     {"data": {"name": "aBox"}, "mark": {"type": "tick", "orient": "horizontal", "size": 27, "thickness": 1.2, "color": "#a6a6a6"},
      "encoding": {"y": {"field": "hi", "type": "quantitative", "axis": {"values": [8,8.5,9,9.5,10,10.5,11,11.5,12], "labelOverlap": false, "format": ".1f", "labelFontSize": 8.5, "tickSize": 3, "labelPadding": 2, "title": ["DROSHA, mRNA expression", "(RNA Seq V2 RSEM)(log2)"], "titleFontSize": 9.5, "titleFontWeight": "bold", "titlePadding": 4, "titleLineHeight": 10.5}}}},
     {"data": {"name": "aPts"}, "mark": {"type": "circle", "size": 14, "opacity": 1},
      "encoding": {"xOffset": {"field": "j", "type": "quantitative", "scale": {"domain": [-2.75, 2.75]}},
        "y": {"field": "v", "type": "quantitative", "axis": {"values": [8,8.5,9,9.5,10,10.5,11,11.5,12], "labelOverlap": false, "format": ".1f", "labelFontSize": 8.5, "tickSize": 3, "labelPadding": 2, "title": ["DROSHA, mRNA expression", "(RNA Seq V2 RSEM)(log2)"], "titleFontSize": 9.5, "titleFontWeight": "bold", "titlePadding": 4, "titleLineHeight": 10.5}},
        "color": {"field": "m", "type": "nominal", "scale": {"domain": ["Nonsense","Missense","No mutation"], "range": ["#9c1c1c","#cc3d2c","#1f86c6"]},
          "legend": {"orient": "bottom-right", "offset": 7, "title": "Mutations", "titleFontSize": 9.5, "titleFontWeight": "bold", "labelFontSize": 9.5, "symbolSize": 16, "symbolType": "circle", "strokeColor": "#555", "fillColor": "white", "padding": 3, "rowPadding": 1, "titlePadding": 1, "labelOffset": 2}}}},
     {"data": {"name": "aNote"}, "mark": {"type": "text", "align": "left", "baseline": "middle", "dx": -21, "fontSize": 9.5, "color": "#111"},
      "encoding": {"y": {"field": "v", "type": "quantitative", "axis": {"values": [8,8.5,9,9.5,10,10.5,11,11.5,12], "labelOverlap": false, "format": ".1f", "labelFontSize": 8.5, "tickSize": 3, "labelPadding": 2, "title": ["DROSHA, mRNA expression", "(RNA Seq V2 RSEM)(log2)"], "titleFontSize": 9.5, "titleFontWeight": "bold", "titlePadding": 4, "titleLineHeight": 10.5}}, "text": {"field": "t"}}}
    ]
   }]
  },
  {"title": {"text": "B", "anchor": "start", "frame": "bounds", "fontSize": 15, "fontWeight": "bold", "offset": -15},
   "resolve": {"scale": {"color": "independent", "xOffset": "independent"}, "legend": {"color": "independent"}},
   "vconcat": [{
    "width": 259, "height": 227,
    "view": {"stroke": "#333", "strokeWidth": 1.5},
    "title": {"text": "stage i-ii lung adenocarcinoma", "fontSize": 9.5, "fontWeight": "bold", "offset": 4},
    "encoding": {"x": {"field": "t", "type": "quantitative", "scale": {"domain": [-0.5, 133], "nice": false, "zero": false},
      "axis": {"values": [0,20,40,60,80,100,120], "labelFontSize": 9.5, "tickSize": 6, "labelPadding": 5, "title": "Time in months", "titleFontSize": 10, "titleFontWeight": "bold", "titlePadding": 6}}},
    "layer": [
     {"data": {"name": "bLine"}, "mark": {"type": "line", "interpolate": "step-after", "strokeWidth": 1},
      "encoding": {"y": {"field": "s", "type": "quantitative", "scale": {"domain": [-0.04, 1.04], "nice": false, "zero": false},
        "axis": {"values": [0,0.2,0.4,0.6,0.8,1], "format": ".1f", "labelAngle": -90, "labelAlign": "center", "labelBaseline": "bottom", "labelFontSize": 9.5, "tickSize": 6, "labelPadding": 3, "title": "Survival probability", "titleFontSize": 10, "titleFontWeight": "bold", "titlePadding": 5}},
        "color": {"field": "g", "type": "nominal", "scale": {"domain": ["Low","High"], "range": ["#2bd52b","#e8141a"]},
          "legend": {"orient": "bottom-left", "offset": 11, "title": ["DROSHA", "expression"], "titleFontWeight": "normal", "titleFontSize": 10, "titleLineHeight": 11, "labelFontSize": 10, "symbolType": "stroke", "symbolSize": 200, "symbolStrokeWidth": 1, "strokeColor": "#222", "fillColor": "white", "padding": 5, "titlePadding": 3, "rowPadding": 1.5, "labelOffset": 8}}}},
     {"data": {"name": "bCens"}, "mark": {"type": "tick", "orient": "vertical", "size": 7, "thickness": 1},
      "encoding": {"y": {"field": "s", "type": "quantitative"}, "color": {"field": "g", "type": "nominal"}}},
     {"data": {"name": "bNote"}, "mark": {"type": "text", "align": "left", "baseline": "middle", "fontSize": 9.5, "color": "#111"},
      "encoding": {"y": {"field": "s", "type": "quantitative"}, "text": {"field": "label"}}}
    ]
   }]
  }
 ], "spacing": 27, "resolve": {"scale": {"color": "independent", "xOffset": "independent"}, "legend": {"color": "independent"}}},
 {"hconcat": [
  {"title": {"text": "C", "anchor": "start", "frame": "bounds", "fontSize": 15, "fontWeight": "bold", "offset": -15},
   "resolve": {"scale": {"color": "independent", "xOffset": "independent"}, "legend": {"color": "independent"}},
   "vconcat": [{
    "width": 227, "height": 226,
    "view": {"stroke": "#6e6e6e", "strokeWidth": 1.5},
    "title": {"text": "lung adenocarcinoma (TCGA, Nature 2014)", "fontSize": 9.5, "fontWeight": "bold", "offset": 4},
    "encoding": {"x": {"field": "c", "type": "nominal", "scale": {"type": "band", "domain": ["Homdel","Hetloss","Diploid","Gain"], "paddingInner": 0, "paddingOuter": 0.064},
      "axis": {"labelAngle": 0, "labelFontSize": 9.5, "tickSize": 4, "labelPadding": 2, "title": ["DICER1, putative copy-number alterations", "from GISTIC"], "titleFontSize": 9.5, "titleFontWeight": "bold", "titlePadding": 6, "titleLineHeight": 11}}},
    "layer": [
     {"data": {"name": "cBox"}, "mark": {"type": "rule", "color": "#a6a6a6", "strokeWidth": 1.2},
      "encoding": {"y": {"field": "lo", "type": "quantitative", "scale": {"domain": [7.47, 12.47], "nice": false, "zero": false},
        "axis": {"values": [8,8.5,9,9.5,10,10.5,11,11.5,12], "labelOverlap": false, "format": ".1f", "labelFontSize": 8.5, "tickSize": 3, "labelPadding": 2, "title": ["DICER1, mRNA expression", "(RNA Seq V2 RSEM)(log2)"], "titleFontSize": 9.5, "titleFontWeight": "bold", "titlePadding": 4, "titleLineHeight": 10.5}},
        "y2": {"field": "hi"}}},
     {"data": {"name": "cBox"}, "mark": {"type": "bar", "fill": "white", "stroke": "#a6a6a6", "strokeWidth": 1.2, "width": {"band": 0.67}},
      "encoding": {"y": {"field": "q1", "type": "quantitative", "axis": {"values": [8,8.5,9,9.5,10,10.5,11,11.5,12], "labelOverlap": false, "format": ".1f", "labelFontSize": 8.5, "tickSize": 3, "labelPadding": 2, "title": ["DICER1, mRNA expression", "(RNA Seq V2 RSEM)(log2)"], "titleFontSize": 9.5, "titleFontWeight": "bold", "titlePadding": 4, "titleLineHeight": 10.5}}, "y2": {"field": "q3"}}},
     {"data": {"name": "cBox"}, "mark": {"type": "tick", "orient": "horizontal", "size": 37, "thickness": 1.2, "color": "#a6a6a6"},
      "encoding": {"y": {"field": "med", "type": "quantitative", "axis": {"values": [8,8.5,9,9.5,10,10.5,11,11.5,12], "labelOverlap": false, "format": ".1f", "labelFontSize": 8.5, "tickSize": 3, "labelPadding": 2, "title": ["DICER1, mRNA expression", "(RNA Seq V2 RSEM)(log2)"], "titleFontSize": 9.5, "titleFontWeight": "bold", "titlePadding": 4, "titleLineHeight": 10.5}}}},
     {"data": {"name": "cBox"}, "mark": {"type": "tick", "orient": "horizontal", "size": 27, "thickness": 1.2, "color": "#a6a6a6"},
      "encoding": {"y": {"field": "lo", "type": "quantitative", "axis": {"values": [8,8.5,9,9.5,10,10.5,11,11.5,12], "labelOverlap": false, "format": ".1f", "labelFontSize": 8.5, "tickSize": 3, "labelPadding": 2, "title": ["DICER1, mRNA expression", "(RNA Seq V2 RSEM)(log2)"], "titleFontSize": 9.5, "titleFontWeight": "bold", "titlePadding": 4, "titleLineHeight": 10.5}}}},
     {"data": {"name": "cBox"}, "mark": {"type": "tick", "orient": "horizontal", "size": 27, "thickness": 1.2, "color": "#a6a6a6"},
      "encoding": {"y": {"field": "hi", "type": "quantitative", "axis": {"values": [8,8.5,9,9.5,10,10.5,11,11.5,12], "labelOverlap": false, "format": ".1f", "labelFontSize": 8.5, "tickSize": 3, "labelPadding": 2, "title": ["DICER1, mRNA expression", "(RNA Seq V2 RSEM)(log2)"], "titleFontSize": 9.5, "titleFontWeight": "bold", "titlePadding": 4, "titleLineHeight": 10.5}}}},
     {"data": {"name": "cPts"}, "mark": {"type": "circle", "size": 14, "opacity": 1},
      "encoding": {"xOffset": {"field": "j", "type": "quantitative", "scale": {"domain": [-2.75, 2.75]}},
        "y": {"field": "v", "type": "quantitative", "axis": {"values": [8,8.5,9,9.5,10,10.5,11,11.5,12], "labelOverlap": false, "format": ".1f", "labelFontSize": 8.5, "tickSize": 3, "labelPadding": 2, "title": ["DICER1, mRNA expression", "(RNA Seq V2 RSEM)(log2)"], "titleFontSize": 9.5, "titleFontWeight": "bold", "titlePadding": 4, "titleLineHeight": 10.5}},
        "color": {"field": "m", "type": "nominal", "scale": {"domain": ["Nonsense","Missense","No mutation"], "range": ["#9c1c1c","#cc3d2c","#1f86c6"]}, "legend": null}}},
     {"data": {"name": "cNote"}, "mark": {"type": "text", "align": "left", "baseline": "middle", "dx": -21, "fontSize": 9.5, "color": "#111"},
      "encoding": {"y": {"field": "v", "type": "quantitative", "axis": {"values": [8,8.5,9,9.5,10,10.5,11,11.5,12], "labelOverlap": false, "format": ".1f", "labelFontSize": 8.5, "tickSize": 3, "labelPadding": 2, "title": ["DICER1, mRNA expression", "(RNA Seq V2 RSEM)(log2)"], "titleFontSize": 9.5, "titleFontWeight": "bold", "titlePadding": 4, "titleLineHeight": 10.5}}, "text": {"field": "t"}}}
    ]
   }]
  },
  {"title": {"text": "D", "anchor": "start", "frame": "bounds", "fontSize": 15, "fontWeight": "bold", "offset": -15},
   "resolve": {"scale": {"color": "independent", "xOffset": "independent"}, "legend": {"color": "independent"}},
   "vconcat": [{
    "width": 259, "height": 227,
    "view": {"stroke": "#333", "strokeWidth": 1.5},
    "title": {"text": "stage i-ii lung adenocarcinoma", "fontSize": 9.5, "fontWeight": "bold", "offset": 4},
    "encoding": {"x": {"field": "t", "type": "quantitative", "scale": {"domain": [-0.5, 133], "nice": false, "zero": false},
      "axis": {"values": [0,20,40,60,80,100,120], "labelFontSize": 9.5, "tickSize": 6, "labelPadding": 5, "title": "Time in months", "titleFontSize": 10, "titleFontWeight": "bold", "titlePadding": 6}}},
    "layer": [
     {"data": {"name": "dLine"}, "mark": {"type": "line", "interpolate": "step-after", "strokeWidth": 1},
      "encoding": {"y": {"field": "s", "type": "quantitative", "scale": {"domain": [-0.04, 1.04], "nice": false, "zero": false},
        "axis": {"values": [0,0.2,0.4,0.6,0.8,1], "format": ".1f", "labelAngle": -90, "labelAlign": "center", "labelBaseline": "bottom", "labelFontSize": 9.5, "tickSize": 6, "labelPadding": 3, "title": "Survival probability", "titleFontSize": 10, "titleFontWeight": "bold", "titlePadding": 5}},
        "color": {"field": "g", "type": "nominal", "scale": {"domain": ["Low","High"], "range": ["#2bd52b","#e8141a"]},
          "legend": {"orient": "bottom-left", "offset": 11, "title": ["DICER1", "expression"], "titleFontWeight": "normal", "titleFontSize": 10, "titleLineHeight": 11, "labelFontSize": 10, "symbolType": "stroke", "symbolSize": 200, "symbolStrokeWidth": 1, "strokeColor": "#222", "fillColor": "white", "padding": 5, "titlePadding": 3, "rowPadding": 1.5, "labelOffset": 8}}}},
     {"data": {"name": "dCens"}, "mark": {"type": "tick", "orient": "vertical", "size": 7, "thickness": 1},
      "encoding": {"y": {"field": "s", "type": "quantitative"}, "color": {"field": "g", "type": "nominal"}}},
     {"data": {"name": "dNote"}, "mark": {"type": "text", "align": "left", "baseline": "middle", "fontSize": 9.5, "color": "#111"},
      "encoding": {"y": {"field": "s", "type": "quantitative"}, "text": {"field": "label"}}}
    ]
   }]
  }
 ], "spacing": 27, "resolve": {"scale": {"color": "independent", "xOffset": "independent"}, "legend": {"color": "independent"}}}
]
}
